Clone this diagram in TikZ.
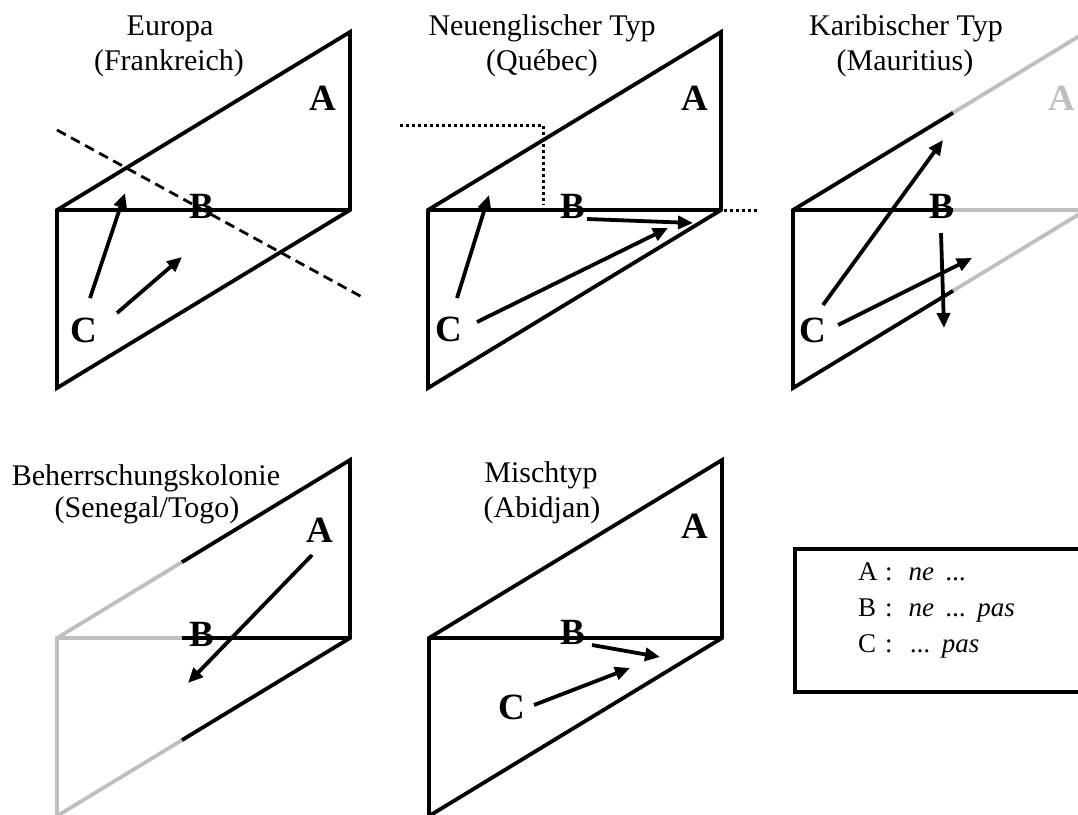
\documentclass[tikz,border=0pt]{standalone}
\usepackage{fontspec}
\setmainfont{Liberation Serif}
\usetikzlibrary{arrows.meta}
\definecolor{lgray}{RGB}{191,191,191}
\begin{document}
\begin{tikzpicture}[x=1pt,y=-1pt,
  edge/.style={line width=3.8pt,line join=miter},
  greyedge/.style={line width=3.8pt,draw=lgray},
  arr/.style={line width=3.8pt,-{Triangle[length=15pt,width=13pt]}},
  dashln/.style={line width=2.8pt,dash pattern=on 10pt off 6pt},
  dotln/.style={line width=3pt,dash pattern=on 3pt off 3pt},
  letter/.style={font=\fontsize{37}{40}\selectfont\bfseries,inner sep=0pt},
  title/.style={font=\fontsize{30}{34}\selectfont,inner sep=0pt,anchor=base},
  legend/.style={font=\fontsize{27}{30}\selectfont,inner sep=0pt,anchor=base west}]
\useasboundingbox (0,0) rectangle (1078,814);
\clip (0,0) rectangle (1078,814);

% ---------- Panel 1: Europa ----------
\coordinate (p1O) at (57,210); \coordinate (p1T) at (350,32);
\coordinate (p1M) at (350,210); \coordinate (p1L) at (57,388);
\draw[edge] (p1L) -- (p1O) -- (p1T) -- (p1M) -- cycle;
\draw[edge] (p1O) -- (p1M);
\coordinate (d1a) at (57,130); \coordinate (d1b) at (362,297);
\draw[dashln] (d1a) -- (d1b);
\node[title] (t1a) at (170,35) {Europa};
\node[title] (t1b) at (169,70) {(Frankreich)};
\node[letter] (A1) at (323,98) {A};
\node[letter] (B1) at (202,206) {B};
\node[letter] (C1) at (84,330) {C};
\coordinate (a1s) at (90,298); \coordinate (a1e) at (125,193);
\coordinate (a2s) at (117,313); \coordinate (a2e) at (182,257);
\draw[arr] (a1s) -- (a1e);
\draw[arr] (a2s) -- (a2e);

% ---------- Panel 2: Quebec ----------
\coordinate (p2O) at (428,210); \coordinate (p2T) at (721,32);
\coordinate (p2M) at (721,210); \coordinate (p2L) at (428,388);
\draw[edge] (p2L) -- (p2O) -- (p2T) -- (p2M) -- cycle;
\draw[edge] (p2O) -- (p2M);
\coordinate (q1) at (400,125); \coordinate (q2) at (543,125); \coordinate (q3) at (543,205);
\coordinate (q4) at (724,210); \coordinate (q5) at (758,210);
\draw[dotln] (q1) -- (q2) -- (q3);
\draw[dotln] (q4) -- (q5);
\node[title] (t2a) at (542,35) {Neuenglischer Typ};
\node[title] (t2b) at (542,70) {(Québec)};
\node[letter] (A2) at (695,98) {A};
\node[letter] (B2) at (573,206) {B};
\node[letter] (C2) at (449,329) {C};
\coordinate (b1s) at (457,298); \coordinate (b1e) at (489,195);
\coordinate (b2s) at (587,219); \coordinate (b2e) at (693,223);
\coordinate (b3s) at (477,322); \coordinate (b3e) at (668,228);
\draw[arr] (b1s) -- (b1e);
\draw[arr] (b2s) -- (b2e);
\draw[arr] (b3s) -- (b3e);

% ---------- Panel 3: Mauritius ----------
\coordinate (p3O) at (793,210); \coordinate (p3T) at (1086,32);
\coordinate (p3M) at (1086,210); \coordinate (p3L) at (793,388);
\coordinate (p3s1) at (953,112.8); \coordinate (p3s2) at (953,210); \coordinate (p3s3) at (953,290.8);
\draw[greyedge] (p3s1) -- (p3T);
\draw[greyedge] (p3s2) -- (p3M);
\draw[greyedge] (p3s3) -- (p3M);
\draw[edge] (p3s1) -- (p3O) -- (p3L) -- (p3s3);
\draw[edge] (p3O) -- (p3s2);
\node[title] (t3a) at (906,35) {Karibischer Typ};
\node[title] (t3b) at (905,70) {(Mauritius)};
\node[letter,text=lgray] (A3) at (1062,98) {A};
\node[letter] (B3) at (942,206) {B};
\node[letter] (C3) at (813,330) {C};
\coordinate (c1s) at (823,305); \coordinate (c1e) at (943,140);
\coordinate (c2s) at (838,325); \coordinate (c2e) at (972,258);
\coordinate (c3s) at (941,233); \coordinate (c3e) at (944,328);
\draw[arr] (c1s) -- (c1e);
\draw[arr] (c2s) -- (c2e);
\draw[arr] (c3s) -- (c3e);

% ---------- Panel 4: Senegal/Togo ----------
\coordinate (p4O) at (57,638); \coordinate (p4T) at (350,460);
\coordinate (p4M) at (350,638); \coordinate (p4L) at (57,816);
\coordinate (p4s1) at (182,562.1); \coordinate (p4s2) at (182,638); \coordinate (p4s3) at (182,740.1);
\draw[greyedge] (p4s1) -- (p4O) -- (p4L) -- (p4s3);
\draw[greyedge] (p4O) -- (p4s2);
\draw[edge] (p4s1) -- (p4T) -- (p4M) -- (p4s3);
\draw[edge] (p4s2) -- (p4M);
\node[title] (t4a) at (146,485) {Beherrschungskolonie};
\node[title] (t4b) at (147,517) {(Senegal/Togo)};
\node[letter] (A4) at (320,530) {A};
\node[letter] (B4) at (202,634) {B};
\coordinate (e1s) at (312,555); \coordinate (e1e) at (188,683);
\draw[arr] (e1s) -- (e1e);

% ---------- Panel 5: Abidjan ----------
\coordinate (p5O) at (429,638); \coordinate (p5T) at (722,460);
\coordinate (p5M) at (722,638); \coordinate (p5L) at (429,816);
\draw[edge] (p5L) -- (p5O) -- (p5T) -- (p5M) -- cycle;
\draw[edge] (p5O) -- (p5M);
\node[title] (t5a) at (541,482) {Mischtyp};
\node[title] (t5b) at (542,517) {(Abidjan)};
\node[letter] (A5) at (695,526) {A};
\node[letter] (B5) at (573,632) {B};
\node[letter] (C5) at (512,707) {C};
\coordinate (f1s) at (592,645); \coordinate (f1e) at (660,657);
\coordinate (f2s) at (534,705); \coordinate (f2e) at (630,668);
\draw[arr] (f1s) -- (f1e);
\draw[arr] (f2s) -- (f2e);

% ---------- Legend ----------
\node[draw,line width=3.8pt,minimum width=320pt,minimum height=143pt,anchor=north west,inner sep=0pt] (box) at (793,547) {};
\node[legend] (la) at (858,580) {\makebox[27pt][l]{A}:\hspace{16pt}\textit{ne\hspace{12pt}...}};
\node[legend] (lb) at (858,616) {\makebox[27pt][l]{B}:\hspace{16pt}\textit{ne\hspace{12pt}...\hspace{11pt}pas}};
\node[legend] (lc) at (858,652) {\makebox[27pt][l]{C}:\hspace{18pt}\textit{...\hspace{11pt}pas}};
\end{tikzpicture}
\end{document}
